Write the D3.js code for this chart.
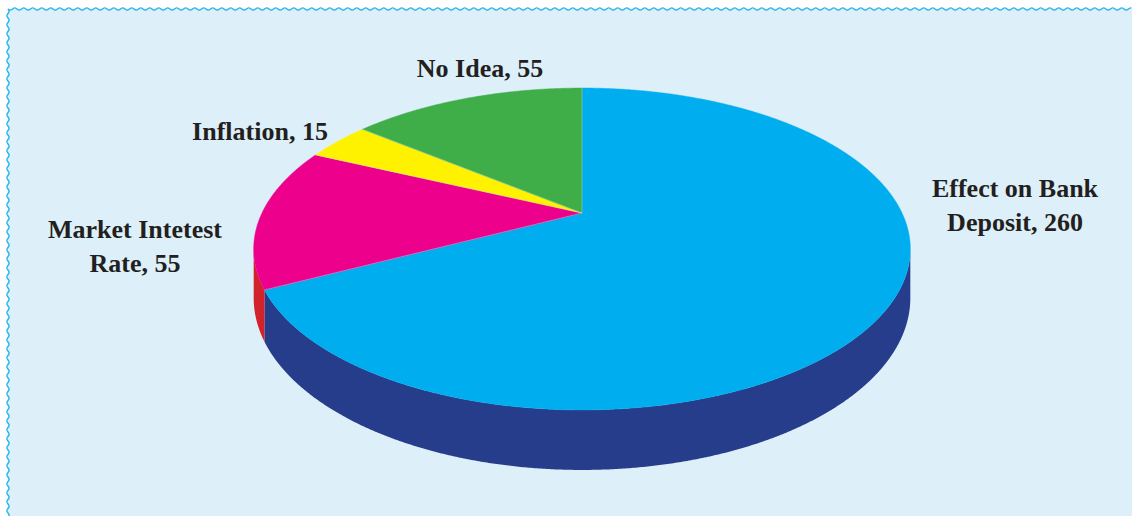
<!DOCTYPE html>
<html>
<head>
<meta charset="utf-8">
<script src="https://cdn.jsdelivr.net/npm/d3@7"></script>
<style>
  html, body { margin: 0; padding: 0; background: #fff; }
  svg { display: block; }
</style>
</head>
<body>
<script>
// chart values
const categories = ["Effect on Bank Deposit", "Market Intetest Rate", "Inflation", "No Idea"];
const values = [260, 55, 15, 55];
const labelLines = [["Effect on Bank", "Deposit, 260"], ["Market Intetest", "Rate, 55"], ["Inflation, 15"], ["No Idea, 55"]];
const topColors = ["#00adee", "#ec008c", "#fff200", "#3fae49"];
const sideColors = ["#263d8c", "#d2232a", "#d6c800", "#2c8a3a"];

const W = 1132, H = 516;
const svg = d3.select("body").append("svg")
    .attr("width", W)
    .attr("height", H);

// background panel + wavy border on top/left
svg.append("rect").attr("width", W).attr("height", H).attr("fill", "#fff");
svg.append("rect").attr("x", 8).attr("y", 9).attr("width", W - 8).attr("height", H - 9).attr("fill", "#ddeff9");

const wave = d3.line().curve(d3.curveBasis);
const topWave = d3.range(8, W + 1, 1.5).map(x => [x, 9 + 1.3 * Math.sin((x - 8) / 9 * 2 * Math.PI)]);
const leftWave = d3.range(9, H + 1, 1.5).map(y => [8 + 1.3 * Math.sin((y - 9) / 9 * 2 * Math.PI), y]);
svg.append("path").attr("d", wave(topWave)).attr("fill", "none").attr("stroke", "#2ab5ec").attr("stroke-width", 1.4);
svg.append("path").attr("d", wave(leftWave)).attr("fill", "none").attr("stroke", "#2ab5ec").attr("stroke-width", 1.4);

// perspective projection of a tilted disc
const cx = 582, cy = 213;
const k = 0.2236, A = 320, B = 152.9, depth = 46.6;
function proj(theta, r, down) {
    const u = r * Math.sin(theta), v = r * Math.cos(theta);
    const w = 1 + k * v;
    return [cx + A * u / w, cy - B * v / w + (down ? depth / w : 0)];
}

const pie = d3.pie().sort(null).value(d => d)(values);
const line = d3.line();

// visible front wall between the two silhouette tangents
const tA = Math.acos(-k), tB = 2 * Math.PI - Math.acos(-k);
const walls = svg.append("g");
pie.forEach((p, i) => {
    const a = Math.max(p.startAngle, tA), b = Math.min(p.endAngle, tB);
    if (b <= a) return;
    const ts = d3.range(a, b, 0.005).concat([b]);
    const pts = ts.map(t => proj(t, 1, false)).concat(ts.slice().reverse().map(t => proj(t, 1, true)));
    walls.append("path").attr("d", line(pts) + "Z").attr("fill", sideColors[i]);
});

// top faces
const tops = svg.append("g");
pie.forEach((p, i) => {
    const ts = d3.range(p.startAngle, p.endAngle, 0.005).concat([p.endAngle]);
    const pts = [[cx, cy]].concat(ts.map(t => proj(t, 1, false)));
    tops.append("path").attr("d", line(pts) + "Z")
        .attr("fill", topColors[i])
        .attr("stroke", topColors[i]).attr("stroke-width", 0.5);
});
// faint seam on radial edges
pie.forEach(p => {
    const e = proj(p.startAngle, 1, false);
    tops.append("line").attr("x1", cx).attr("y1", cy).attr("x2", e[0]).attr("y2", e[1])
        .attr("stroke", "#cde8f3").attr("stroke-width", 0.6).attr("opacity", 0.6);
});

// labels
const labelPos = [[1015, 197], [135, 238], [260, 140], [480, 77]];
const labels = svg.append("g")
    .attr("font-family", "'Liberation Serif', 'Times New Roman', serif")
    .attr("font-weight", "bold")
    .attr("font-size", 26)
    .attr("fill", "#231f20")
    .attr("text-anchor", "middle");
labelLines.forEach((ls, i) => {
    const t = labels.append("text").attr("x", labelPos[i][0]).attr("y", labelPos[i][1]);
    ls.forEach((s, j) => {
        t.append("tspan").attr("x", labelPos[i][0]).attr("dy", j === 0 ? 0 : 34).text(s);
    });
});
</script>
</body>
</html>
